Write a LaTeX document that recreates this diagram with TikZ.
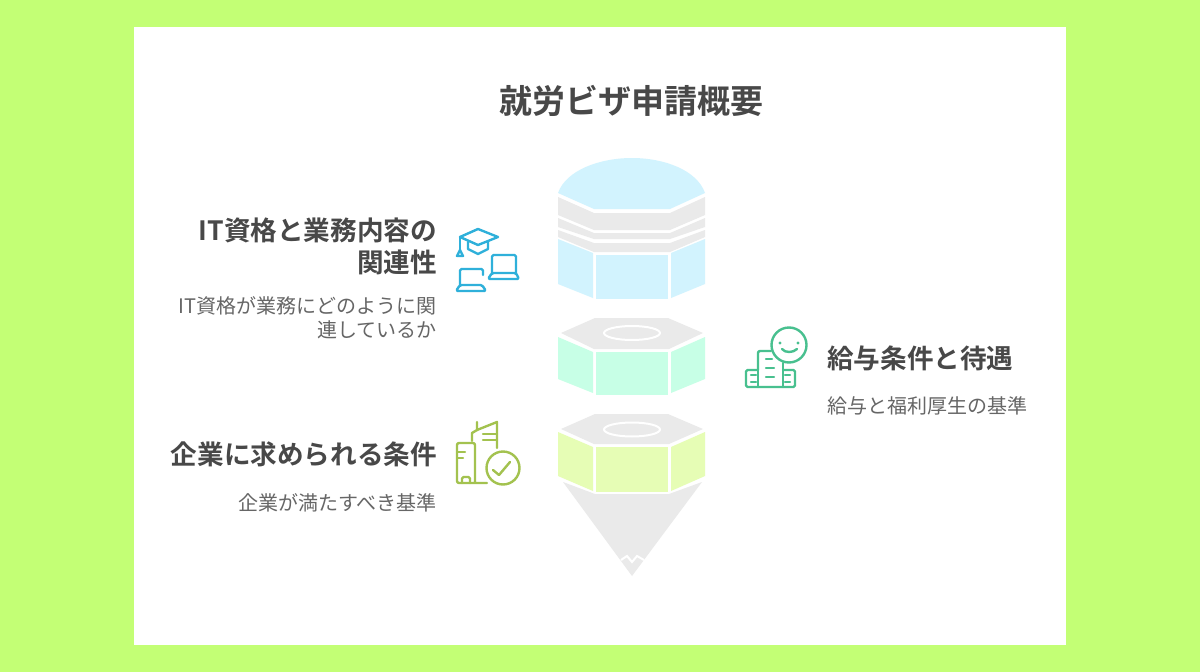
\documentclass[tikz,border=0pt]{standalone}
\usepackage{fontspec}
\setmainfont{Noto Sans CJK JP}
\newfontfamily\jpbold[BoldFont={Noto Sans CJK JP Bold}]{Noto Sans CJK JP Bold}
\definecolor{bgc}{HTML}{C3FF75}
\definecolor{txt}{HTML}{484848}
\definecolor{sub}{HTML}{666666}
\definecolor{gr}{HTML}{EAEAEA}
\definecolor{bl}{HTML}{D2F3FE}
\definecolor{mn}{HTML}{C7FFE6}
\definecolor{lm}{HTML}{E6FDB5}
\definecolor{icb}{HTML}{2FB0DA}
\definecolor{icg}{HTML}{A3C24F}
\definecolor{icm}{HTML}{48C08F}
\tikzset{
 titletext/.style={font=\jpbold\fontsize{33}{40}\selectfont,text=txt,inner sep=0pt},
 headtext/.style={font=\jpbold\fontsize{26.6}{33}\selectfont,text=txt,inner sep=0pt},
 desctext/.style={font=\fontsize{20}{25}\selectfont,text=sub,inner sep=0pt},
 icon/.style={line width=2.4pt,line cap=round,line join=round},
}
\begin{document}
\begin{tikzpicture}[x=1pt,y=-1pt]
\useasboundingbox (0,0) rectangle (1200,672);
\fill[bgc] (0,0) rectangle (1200,672);
\fill[white] (134,27) rectangle (1066,645);
% top block
\fill[bl] (558,193) .. controls (566,170) and (600,158) .. (632,158) .. controls (664,158) and (697,170) .. (705,193) -- (670,209) -- (594,209) -- cycle;
\fill[gr] (558,197) -- (594,213) -- (670,213) -- (705,197) -- (705,215) -- (670,230) -- (594,230) -- (558,215) -- cycle;
\fill[gr] (558,218) -- (594,233) -- (670,233) -- (705,218) -- (705,227) -- (670,239) -- (594,239) -- (558,227) -- cycle;
\fill[gr] (558,230) -- (594,243) -- (670,243) -- (705,230) -- (705,237) -- (670,252) -- (594,252) -- (558,237) -- cycle;
\fill[bl] (558,239) -- (593,253) -- (593,298) -- (558,284) -- cycle;
\fill[bl] (596,255) rectangle (668,299);
\fill[bl] (671,253) -- (705,239) -- (705,284) -- (671,298) -- cycle;
% middle block
\fill[gr] (595,318) -- (668,318) -- (703,333) -- (669,349) -- (594,349) -- (561,333) -- cycle;
\draw[white,line width=2pt] (632,333) ellipse [x radius=28,y radius=7];
\fill[mn] (558,337) -- (593,352) -- (593,393) -- (558,379) -- cycle;
\fill[mn] (596,352) rectangle (668,395);
\fill[mn] (671,352) -- (705,337) -- (705,379) -- (671,393) -- cycle;
% bottom block
\fill[gr] (595,414) -- (668,414) -- (703,429) -- (669,444) -- (594,444) -- (561,429) -- cycle;
\draw[white,line width=2pt] (632,429.5) ellipse [x radius=28,y radius=7];
\fill[lm] (558,432) -- (593,447) -- (593,491) -- (558,476) -- cycle;
\fill[lm] (596,447) rectangle (668,492);
\fill[lm] (671,447) -- (705,432) -- (705,476) -- (671,491) -- cycle;
\fill[gr] (563,482) -- (595,494) -- (669,494) -- (702,482) -- (632,576) -- cycle;
\draw[white,line width=2pt] (621,560) -- (627,556) -- (632,562) -- (637,556) -- (644,560);
% icon: graduate + laptops
\begin{scope}[icon,draw=icb]
\draw (478,229) -- (498,237) -- (478,245) -- (460,237) -- cycle;
\draw (468,242) -- (468,249) -- (478,254) -- (488,249) -- (488,242);
\draw (460,237) -- (460,250);
\draw (460,250) -- (457,256) -- (463,256) -- cycle;
\draw (492,273) -- (492,257) [rounded corners=1.5pt] -- (492,255) -- (516,255) -- (516,273);
\draw[rounded corners=1.5pt] (492,273) -- (516,273) -- (519,279) -- (488,279) -- cycle;
\draw[rounded corners=1.5pt] (483,275) -- (483,269) -- (460,269) -- (460,285);
\draw[rounded corners=1.5pt] (460,285) -- (482,285) -- (486,291) -- (456,291) -- cycle;
\end{scope}
% icon: buildings + check
\begin{scope}[icon,draw=icg]
\draw[rounded corners=2pt] (487,483) -- (457,483) -- (457,443) -- (475,443) -- (475,483);
\draw (458,452) -- (465,452) (458,458) -- (463,458);
\draw[rounded corners=1.5pt] (462,483) -- (462,477) -- (470,477) -- (470,483);
\draw (472,441) -- (472,433) -- (477,430) -- (477,422);
\draw (477,430) -- (497,422) -- (497,448);
\draw (483,434) -- (497,434) (483,440) -- (497,440);
\draw (503,468) circle [radius=16.5];
\draw (493,470) -- (499,475) -- (510,462);
\end{scope}
% icon: smile + building
\begin{scope}[icon,draw=icm]
\draw (789,345) circle [radius=17.5];
\fill[icm] (780,343) circle [radius=1.6] (798,343) circle [radius=1.6];
\draw (782,349) .. controls (785,353) and (793,353) .. (797,349);
\draw[rounded corners=2pt] (758,370) -- (758,351) -- (771,351);
\draw (783,363) -- (783,387);
\draw (758,370) -- (758,387);
\draw[rounded corners=1.5pt] (758,370) -- (746,370) -- (746,387) -- (795,387) -- (795,370) -- (783,370);
\draw (766,359) -- (772,359) (766,368) -- (774,368) (766,377) -- (774,377);
\draw (751,375) -- (756,375) (751,382) -- (756,382) (785,375) -- (790,375) (785,382) -- (790,382);
\end{scope}
% texts
\node[titletext,anchor=center] (title) at (631.5,101) {就労ビザ申請概要};
\node[headtext,anchor=east] (h1a) at (437,230) {IT資格と業務内容の};
\node[headtext,anchor=east] (h1b) at (437,262) {関連性};
\node[desctext,anchor=east] (d1a) at (437,306) {IT資格が業務にどのように関};
\node[desctext,anchor=east] (d1b) at (437,330) {連しているか};
\node[headtext,anchor=east] (h2) at (437,454) {企業に求められる条件};
\node[desctext,anchor=east] (d2) at (437,503) {企業が満たすべき基準};
\node[headtext,anchor=west] (h3) at (827,358) {給与条件と待遇};
\node[desctext,anchor=west] (d3) at (827,406) {給与と福利厚生の基準};
\end{tikzpicture}
\end{document}
